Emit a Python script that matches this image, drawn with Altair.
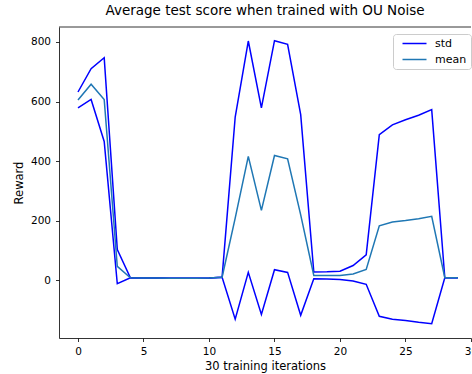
import altair as alt
import pandas as pd

# Evaluation reward over 30 training iterations (OU noise exploration)
iterations = list(range(30))
mean_reward = [605, 658, 607, 47, 9, 8, 8, 7, 7, 7, 8, 11, 209, 416, 235,
               419, 408, 220, 17, 17, 17, 22, 37, 183, 196, 201, 207, 215, 9, 9]
upper_band = [632, 710, 747, 104, 9, 8, 8, 7, 7, 7, 8, 11, 548, 803, 579,
              804, 792, 556, 28, 29, 31, 50, 86, 489, 522, 539, 554, 573, 9, 9]
lower_band = [579, 607, 466, -11, 9, 8, 8, 7, 7, 7, 8, 11, -130, 27, -114,
              36, 27, -117, 6, 5, 3, -2, -13, -120, -130, -134, -140, -145, 9, 9]

rows = []
for name, series, values in [("upper", "std", upper_band),
                             ("lower", "std", lower_band),
                             ("mean", "mean", mean_reward)]:
    for i, v in zip(iterations, values):
        rows.append({"iteration": i, "reward": v, "series": series, "line": name})
df = pd.DataFrame(rows)

W, H = 412, 311
FONT = "DejaVu Sans"

x = alt.X("iteration:Q", title="30 training iterations",
          scale=alt.Scale(domain=[-1.45, 30.0], nice=False, zero=False),
          axis=alt.Axis(values=[0, 5, 10, 15, 20, 25, 30], grid=False,
                        labelFlush=False, labelOverlap=False))
y = alt.Y("reward:Q", title="Reward",
          scale=alt.Scale(domain=[-193, 850], nice=False, zero=False),
          axis=alt.Axis(values=[0, 200, 400, 600, 800], grid=False))

lines = alt.Chart(df).mark_line(strokeWidth=1.5, clip=True).encode(
    x=x,
    y=y,
    color=alt.Color("series:N", title=None,
                    scale=alt.Scale(domain=["std", "mean"],
                                    range=["#0000ff", "#1f77b4"]),
                    legend=alt.Legend(orient="none", legendX=334, legendY=7,
                                      # short horizontal line as the legend key
                                      symbolType="M-3,0L3,0", symbolSize=64,
                                      symbolStrokeWidth=1.5, symbolOffset=12,
                                      labelOffset=15, labelFontSize=11,
                                      labelFont=FONT, labelColor="black",
                                      padding=4, rowPadding=4,
                                      strokeColor="#cccccc", fillColor="white",
                                      cornerRadius=3)),
    detail="line:N",
    order=alt.Order("iteration:Q"),
)

# top spine of the axes frame
top_spine = alt.Chart(pd.DataFrame({"v": [0]})).mark_rule(
    color="black", strokeWidth=0.8
).encode(x=alt.value(0), x2=alt.value(W), y=alt.value(0))

chart = alt.layer(lines, top_spine).properties(
    width=W, height=H,
    title=alt.Title("Average test score when trained with OU Noise",
                    fontSize=13.5, font=FONT, fontWeight="normal",
                    color="black", offset=9),
    autosize=alt.AutoSizeParams(type="none"),
    padding={"left": 59, "top": 27, "right": 1, "bottom": 36},
).configure_view(stroke=None).configure_axis(
    domainColor="black", domainWidth=0.8, tickColor="black", tickWidth=0.8,
    tickSize=3.5, labelFont=FONT, labelFontSize=10.5, labelColor="black",
    labelPadding=5, titleFont=FONT, titleFontSize=11.5, titleColor="black",
    titleFontWeight="normal",
).configure_axisX(titlePadding=3).configure_axisY(titlePadding=6)

chart.save("out.html", embed_options={"renderer": "svg", "actions": False})
